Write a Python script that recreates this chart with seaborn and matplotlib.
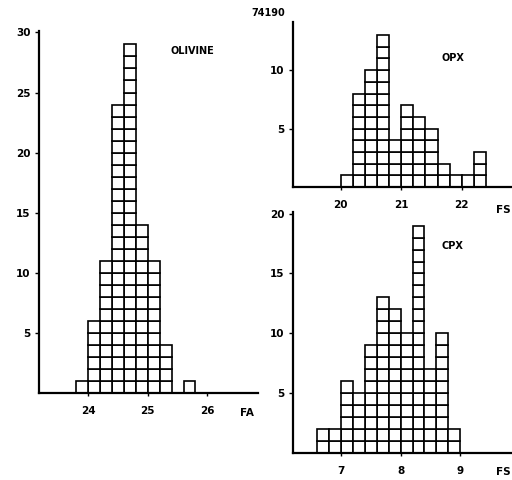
import numpy as np
import pandas as pd
import matplotlib
matplotlib.use("Agg")
import matplotlib.pyplot as plt
import seaborn as sns

sns.set_style("ticks")
plt.rcParams['font.family'] = ['DejaVu Sans']
plt.rcParams['font.weight'] = 'bold'
plt.rcParams['text.color'] = 'black'
plt.rcParams['axes.edgecolor'] = 'black'
plt.rcParams['xtick.color'] = 'black'
plt.rcParams['ytick.color'] = 'black'

# ***** counts per 0.2 bin ***** #
ol_bins = [23.8, 24.0, 24.2, 24.4, 24.6, 24.8, 25.0, 25.2, 25.4, 25.6]
ol_counts = [1, 6, 11, 24, 29, 14, 11, 4, 0, 1]

opx_bins = [20.0, 20.2, 20.4, 20.6, 20.8, 21.0, 21.2, 21.4, 21.6, 21.8, 22.0, 22.2]
opx_counts = [1, 8, 10, 13, 4, 7, 6, 5, 2, 1, 1, 3]

cpx_bins = [6.6, 6.8, 7.0, 7.2, 7.4, 7.6, 7.8, 8.0, 8.2, 8.4, 8.6, 8.8]
cpx_counts = [2, 2, 6, 5, 9, 13, 12, 10, 19, 7, 10, 2]

ol_ticks = [24, 25, 26]
opx_ticks = [20, 21, 22]
cpx_ticks = [7, 8, 9]
BW = 0.2


def expand(bins, counts):
    # one row per grain, "layer" = its place in the stack so every square is its own patch
    rows = []
    for b, c in zip(bins, counts):
        for k in range(c):
            rows.append((b + BW / 2, k))
    return pd.DataFrame(rows, columns=["val", "layer"])


def panel(ax, bins, counts, xlim, ylim, xticks, yticks, name, name_xy):
    df = expand(bins, counts)
    edges = list(bins) + [bins[-1] + BW]
    n = df["layer"].nunique()
    sns.histplot(data=df, x="val", hue="layer", multiple="stack", bins=edges,
                 palette=["white"] * n, edgecolor="black", linewidth=1.2,
                 alpha=1, legend=False, ax=ax)
    ax.set_xlim(*xlim)
    ax.set_ylim(*ylim)
    ax.set_xticks(xticks)
    ax.set_yticks(yticks)
    ax.set_xlabel("")
    ax.set_ylabel("")
    sns.despine(ax=ax)
    for s in ["left", "bottom"]:
        ax.spines[s].set_linewidth(1.6)
    ax.tick_params(axis="y", length=3, width=1, pad=3, labelsize=7.5)
    ax.tick_params(axis="x", length=2, width=1, pad=7, labelsize=7.5)
    for lab in ax.get_xticklabels() + ax.get_yticklabels():
        lab.set_fontweight("heavy")
    ax.text(name_xy[0], name_xy[1], name, transform=ax.transAxes,
            fontsize=7, fontweight="heavy", va="center")


fig = plt.figure(figsize=(5.12, 4.8), dpi=100)
ax_ol = fig.add_axes([0.0762, 0.181, 0.428, 0.754])
ax_opx = fig.add_axes([0.572, 0.610, 0.428, 0.344])
ax_cpx = fig.add_axes([0.572, 0.0556, 0.428, 0.502])

panel(ax_ol, ol_bins, ol_counts, (23.18, 26.85), (0, 30.1), ol_ticks,
      [5, 10, 15, 20, 25, 30], "OLIVINE", (0.60, 0.944))
panel(ax_opx, opx_bins, opx_counts, (19.21, 22.83), (0, 14.1), opx_ticks,
      [5, 10], "OPX", (0.68, 0.78))
panel(ax_cpx, cpx_bins, cpx_counts, (6.19, 9.87), (0, 20.1), cpx_ticks,
      [5, 10, 15, 20], "CPX", (0.68, 0.86))

fig.text(0.469, 0.140, "FA", fontsize=7.5, fontweight="heavy", va="center")
fig.text(0.997, 0.562, "FS", fontsize=7.5, fontweight="heavy", va="center", ha="right")
fig.text(0.997, 0.017, "FS", fontsize=7.5, fontweight="heavy", va="center", ha="right")
fig.text(0.523, 0.972, "74190", fontsize=7, fontweight="heavy",
         va="center", ha="center")

fig.savefig("out.png", dpi=100)
